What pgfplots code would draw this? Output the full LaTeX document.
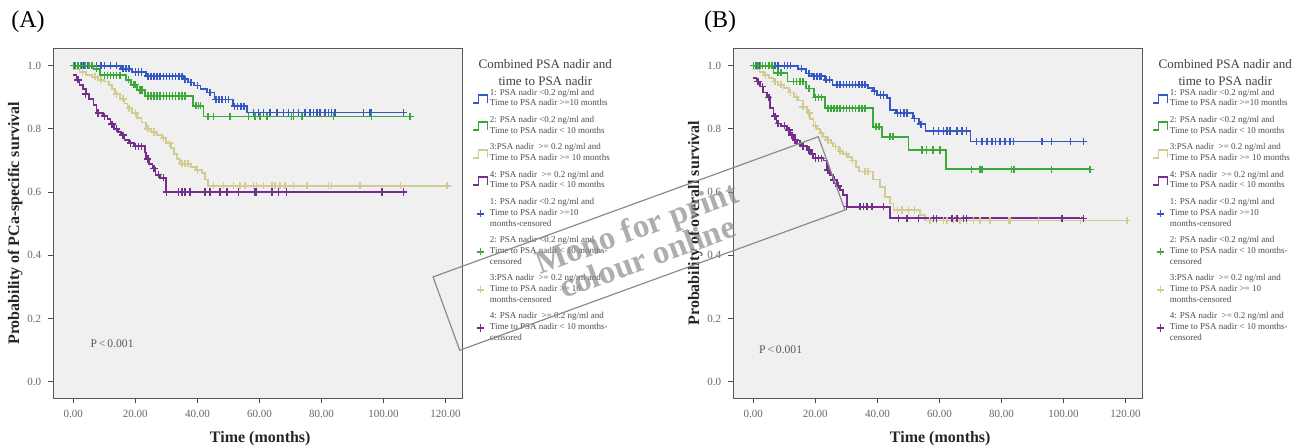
\documentclass[border=0pt]{standalone}
\usepackage{fontspec}
\setmainfont{Liberation Serif}
\usepackage{pgfplots}
\pgfplotsset{compat=1.18}

\definecolor{kmblue}{RGB}{52,88,196}
\definecolor{kmgreen}{RGB}{60,168,60}
\definecolor{kmkhaki}{RGB}{210,204,146}
\definecolor{kmpurple}{RGB}{118,46,140}
\definecolor{plotbg}{RGB}{240,240,240}

\pgfplotsset{
  kmaxis/.style={
    scale only axis, width=204.5pt, height=175pt,
    anchor=south west,
    xmin=-6.45, xmax=125.4, ymin=-0.0525, ymax=1.055,
    xtick={0,20,40,60,80,100,120}, ytick={0,0.2,0.4,0.6,0.8,1.0},
    xtick pos=left, ytick pos=left, tick align=outside,
    major tick length=2.5pt,
    tick style={black!70, line width=0.5pt},
    axis line style={black!65, line width=0.6pt},
    axis background/.style={fill=plotbg},
    /pgf/number format/assume math mode=true,
    xticklabel style={/pgf/number format/.cd, fixed, fixed zerofill, precision=2},
    yticklabel style={/pgf/number format/.cd, fixed, fixed zerofill, precision=1},
    tick label style={font=\fontsize{5.5}{6.5}\selectfont, text=black!60},
    every axis y label/.style={at={(axis description cs:-0.093,0.5)}, rotate=90, anchor=center,
      font=\bfseries\fontsize{8}{9}\selectfont, text=black!85},
    every axis x label/.style={at={(axis description cs:0.506,-0.114)}, anchor=center,
      font=\bfseries\fontsize{8}{9}\selectfont, text=black!85},
    clip mode=individual,
    legend cell align=left,
    legend style={at={(1.024,0.89)}, anchor=north west, draw=none, fill=none,
      font=\fontsize{4.5}{5.3}\selectfont, text=black!70, cells={align=left},
      row sep=2.2pt, inner sep=0pt, nodes={inner sep=0.8pt}},
  },
  stepline/.style={const plot, line width=0.9pt, mark=none,
    legend image code/.code={\draw[##1] (0pt,-2pt) -- (2.5pt,-2pt) -- (2.5pt,2pt) -- (7pt,2pt) -- (7pt,-2pt);}},
  censor/.style={only marks, mark=+, mark size=1.8pt, mark options={line width=0.75pt},
    legend image code/.code={\draw[##1] plot coordinates {(3.5pt,0pt)};}},
}

\newcommand{\kmlegendtitle}{\node[align=center, font=\fontsize{6.5}{8.5}\selectfont, text=black!75]
  at (rel axis cs:1.203,0.931) {Combined PSA nadir and\\time to PSA nadir};}

\begin{document}
\begin{tikzpicture}
\fill[white] (0,0) rectangle (648pt,224pt);
\useasboundingbox (0,0) rectangle (648pt,224pt);

\node[font=\fontsize{12}{14}\selectfont] at (14pt,213pt) {(A)};
\node[font=\fontsize{12}{14}\selectfont] at (360pt,213pt) {(B)};

% ---------------- panel A: PCa-specific survival
\begin{axis}[kmaxis, at={(26.65pt,24.85pt)},
  ylabel={Probability of PCa-specific survival}, xlabel={Time (months)}]
\addplot[stepline, kmblue] coordinates {
  (0,1.0) (15.5,0.99) (19,0.98) (23.5,0.967) (35.5,0.957) (37,0.947) (39,0.937) (41,0.927)
  (43,0.915) (45.5,0.893) (51.5,0.872) (56,0.852) (106.5,0.852)};
\addlegendentry{1: PSA nadir <0.2 ng/ml and\\Time to PSA nadir >=10 months}
\addplot[stepline, kmgreen] coordinates {
  (0,1.0) (6.5,0.99) (8.5,0.97) (17,0.955) (18.5,0.94) (20.5,0.923) (23,0.904) (38.7,0.873)
  (42,0.839) (108.6,0.839)};
\addlegendentry{2: PSA nadir <0.2 ng/ml and\\Time to PSA nadir < 10 months}
\addplot[stepline, kmkhaki] coordinates {
  (0,0.99) (2,0.98) (4,0.97) (6,0.965) (8,0.955) (10,0.95) (11.5,0.94) (12.5,0.925) (13.5,0.91)
  (15,0.895) (16.5,0.88) (17.5,0.865) (19,0.85) (20.5,0.835) (22,0.82) (23.5,0.80) (25,0.79)
  (27,0.78) (28.5,0.77) (30,0.755) (31.5,0.74) (32.5,0.72) (33.5,0.705) (34.5,0.69) (38,0.68)
  (39.5,0.67) (41.5,0.66) (42.5,0.64) (43.5,0.62) (120.5,0.62)};
\addlegendentry{3:PSA nadir \ >= 0.2 ng/ml and\\Time to PSA nadir >= 10 months}
\addplot[stepline, kmpurple] coordinates {
  (0,0.97) (1,0.955) (2,0.94) (3,0.925) (4,0.91) (5,0.895) (6.5,0.875) (7.5,0.85) (9.5,0.84)
  (11,0.83) (12,0.815) (13,0.80) (14.5,0.79) (15.5,0.78) (16.5,0.765) (18,0.755) (19.5,0.745)
  (23,0.725) (23.5,0.705) (24.5,0.69) (25.5,0.675) (26.5,0.655) (28,0.645) (30,0.60) (106.5,0.60)};
\addlegendentry{4: PSA nadir \ >= 0.2 ng/ml and\\Time to PSA nadir < 10 months}
% censored
\addplot[censor, kmblue] coordinates {
  (0.5,1) (1.5,1) (2.5,1) (3.5,1) (4.5,1) (6,1) (7.5,1) (9,1) (10,1) (12,1) (14,1)
  (16,0.99) (17,0.99) (18,0.99) (20,0.98) (21,0.98) (22,0.98)
  (24,0.967) (25,0.967) (26,0.967) (27,0.967) (28,0.967) (29,0.967) (30,0.967) (31,0.967)
  (32,0.967) (33,0.967) (34,0.967) (35,0.967) (36,0.957) (38,0.947) (40,0.937) (44,0.915)
  (46,0.893) (47,0.893) (48,0.893) (49,0.893) (50,0.893) (52,0.872) (53,0.872) (54,0.872) (55,0.872)
  (58.1,0.852) (59.7,0.852) (61.3,0.852) (63.4,0.852) (65.6,0.852) (67.7,0.852) (69.4,0.852)
  (71,0.852) (72.6,0.852) (74.7,0.852) (76.3,0.852) (77.4,0.852) (78.5,0.852) (79.6,0.852)
  (81.2,0.852) (82.3,0.852) (83.3,0.852) (84.4,0.852) (93.5,0.852) (95.7,0.852) (96.2,0.852)
  (106.5,0.852)};
\addlegendentry{1: PSA nadir <0.2 ng/ml and\\Time to PSA nadir >=10\\months-censored}
\addplot[censor, kmgreen] coordinates {
  (0,1) (0.7,1) (1.5,1) (2.3,1) (3,1) (4,1) (5,1) (6,1) (7.5,0.99)
  (10,0.97) (11,0.97) (12,0.97) (13,0.97) (14,0.97) (15,0.97) (17.8,0.955) (19.5,0.94) (20,0.94)
  (21.5,0.923) (22.2,0.923) (24,0.904) (25,0.904) (26,0.904) (27,0.904) (28,0.904) (29,0.904)
  (30,0.904) (31,0.904) (32,0.904) (33,0.904) (34,0.904) (35,0.904) (36,0.904)
  (39.5,0.873) (40.3,0.873) (41,0.873) (43.5,0.839) (45.2,0.839) (50.5,0.839) (56.5,0.839)
  (58.6,0.839) (60.2,0.839) (62.4,0.839) (70.4,0.839) (71,0.839) (73.7,0.839) (83.9,0.839)
  (96.2,0.839) (108.6,0.839)};
\addlegendentry{2: PSA nadir <0.2 ng/ml and\\Time to PSA nadir < 10 months-\\censored}
\addplot[censor, kmkhaki] coordinates {
  (3,0.98) (7,0.965) (9,0.955) (14,0.91) (16,0.895) (18,0.865) (20,0.85) (24,0.80) (26,0.79)
  (29,0.77) (31,0.755) (35,0.69) (36,0.69) (37,0.69) (40,0.67)
  (45.2,0.62) (48.4,0.62) (51.6,0.62) (53.8,0.62) (55.4,0.62) (58.1,0.62) (59.1,0.62) (61.3,0.62)
  (64,0.62) (65,0.62) (66.7,0.62) (68.3,0.62) (71,0.62) (75.3,0.62) (82.3,0.62) (83.3,0.62)
  (92.5,0.62) (105.4,0.62) (120.5,0.62)};
\addlegendentry{3:PSA nadir \ >= 0.2 ng/ml and\\Time to PSA nadir >= 10\\months-censored}
\addplot[censor, kmpurple] coordinates {
  (1.5,0.955) (4,0.91) (8,0.85) (10,0.84) (12.5,0.815) (14,0.80) (16,0.78) (18.5,0.755)
  (20,0.745) (21,0.745) (22,0.745) (24,0.705) (26,0.675) (27.5,0.655) (29,0.645)
  (30.1,0.60) (33.9,0.60) (35,0.60) (36,0.60) (37.6,0.60) (42.5,0.60) (44.1,0.60) (47.3,0.60)
  (49.5,0.60) (53.2,0.60) (58.6,0.60) (59.1,0.60) (64,0.60) (66.1,0.60) (68.8,0.60) (99.5,0.60)
  (106.5,0.60)};
\addlegendentry{4: PSA nadir \ >= 0.2 ng/ml and\\Time to PSA nadir < 10 months-\\censored}
\node[font=\fontsize{5.8}{7}\selectfont, text=black!65] at (axis cs:12.5,0.12) {P\,<\,0.001};
\kmlegendtitle
\end{axis}

% ---------------- panel B: overall survival
\begin{axis}[kmaxis, at={(366.65pt,24.85pt)},
  ylabel={Probability of overall survival}, xlabel={Time (months)}]
\addplot[stepline, kmblue] coordinates {
  (0,1.0) (14.5,0.99) (17,0.975) (19,0.967) (23,0.955) (25.5,0.94) (37,0.93) (38.5,0.92)
  (40,0.907) (43,0.897) (44,0.86) (46,0.85) (51.5,0.833) (53.5,0.815) (55.5,0.793) (70,0.76)
  (106.5,0.76)};
\addlegendentry{1: PSA nadir <0.2 ng/ml and\\Time to PSA nadir >=10 months}
\addplot[stepline, kmgreen] coordinates {
  (0,1.0) (6.5,0.978) (11,0.95) (17,0.928) (19.5,0.90) (23,0.865) (38.7,0.807) (41.5,0.775)
  (50,0.733) (62,0.672) (108.6,0.672)};
\addlegendentry{2: PSA nadir <0.2 ng/ml and\\Time to PSA nadir < 10 months}
\addplot[stepline, kmkhaki] coordinates {
  (0,0.99) (2,0.98) (3.5,0.97) (5,0.96) (6.5,0.95) (8,0.94) (10,0.93) (11.5,0.915) (13,0.90)
  (14.5,0.89) (16,0.87) (17.2,0.85) (18.3,0.83) (19.4,0.81) (20.5,0.80) (21.5,0.786) (22.5,0.775)
  (23.7,0.765) (25,0.755) (25.8,0.744) (27.5,0.73) (29,0.72) (30.5,0.71) (31.7,0.70) (33,0.68)
  (34,0.665) (38.7,0.64) (40.9,0.617) (42.5,0.585) (44.1,0.564) (45.2,0.543) (53.8,0.527)
  (55.4,0.51) (120.4,0.51)};
\addlegendentry{3:PSA nadir \ >= 0.2 ng/ml and\\Time to PSA nadir >= 10 months}
\addplot[stepline, kmpurple] coordinates {
  (0,0.96) (1,0.95) (2.2,0.934) (3.2,0.915) (4.3,0.90) (5.4,0.865) (6.5,0.84) (7.5,0.817) (9,0.81)
  (10.8,0.796) (12,0.78) (13,0.765) (14,0.754) (15.5,0.745) (17.2,0.733) (18.5,0.72) (19.4,0.707)
  (22.6,0.70) (23.7,0.67) (24.8,0.655) (25.8,0.638) (27,0.62) (28,0.606) (29,0.59) (30.1,0.554)
  (44.1,0.517) (106.5,0.517)};
\addlegendentry{4: PSA nadir \ >= 0.2 ng/ml and\\Time to PSA nadir < 10 months}
\addplot[censor, kmblue] coordinates {
  (0,1) (1,1) (2,1) (3,1) (4,1) (5,1) (7,1) (8,1) (10,1) (11,1) (12,1) (15.5,0.99) (18,0.975)
  (19.5,0.967) (20.5,0.967) (21.5,0.967) (22,0.967) (23.5,0.955) (24.5,0.955)
  (27,0.94) (28,0.94) (29,0.94) (30,0.94) (31,0.94) (32,0.94) (33,0.94) (34,0.94) (35,0.94) (36,0.94)
  (39,0.92) (41,0.907) (42,0.907) (46.5,0.85) (47.5,0.85) (48.5,0.85) (49.5,0.85) (52,0.833)
  (54,0.815) (58.1,0.793) (59.7,0.793) (61.3,0.793) (62.4,0.793) (63.4,0.793) (65.6,0.793)
  (67.2,0.793) (68.8,0.793) (72,0.76) (73.7,0.76) (75.3,0.76) (76.9,0.76) (78,0.76) (79.6,0.76)
  (81.2,0.76) (82.8,0.76) (83.9,0.76) (93,0.76) (96.2,0.76) (102.2,0.76) (106.5,0.76)};
\addlegendentry{1: PSA nadir <0.2 ng/ml and\\Time to PSA nadir >=10\\months-censored}
\addplot[censor, kmgreen] coordinates {
  (0,1) (0.7,1) (1.5,1) (2.3,1) (3,1) (4,1) (5,1) (6,1) (8,0.978) (9,0.978)
  (13,0.95) (14,0.95) (15,0.95) (16,0.95) (18,0.928) (20,0.90) (21,0.90) (22,0.90)
  (24,0.865) (25,0.865) (26,0.865) (27,0.865) (28,0.865) (29,0.865) (30,0.865) (31,0.865)
  (32,0.865) (33,0.865) (34,0.865) (35,0.865) (36,0.865) (39.5,0.807) (40.5,0.807) (44,0.775)
  (45,0.775) (54.3,0.733) (55.9,0.733) (58,0.733) (60.2,0.733) (70.4,0.672) (73.1,0.672)
  (73.8,0.672) (83.3,0.672) (84,0.672) (96.2,0.672) (108.6,0.672)};
\addlegendentry{2: PSA nadir <0.2 ng/ml and\\Time to PSA nadir < 10 months-\\censored}
\addplot[censor, kmkhaki] coordinates {
  (4,0.97) (7,0.95) (9,0.94) (12,0.915) (14,0.90) (16,0.87) (18,0.85) (20,0.81) (22,0.786)
  (24,0.765) (26.5,0.744) (28,0.73) (30,0.72) (32,0.70) (36,0.665) (37,0.665)
  (46.5,0.543) (48,0.543) (50,0.543) (52,0.543) (57,0.51) (59.1,0.51) (61.3,0.51) (62.4,0.51)
  (64.5,0.51) (66.7,0.51) (68.8,0.51) (71,0.51) (73.1,0.51) (76.3,0.51) (82.2,0.51) (82.8,0.51)
  (91.9,0.51) (105.4,0.51) (120.4,0.51)};
\addlegendentry{3:PSA nadir \ >= 0.2 ng/ml and\\Time to PSA nadir >= 10\\months-censored}
\addplot[censor, kmpurple] coordinates {
  (1.5,0.95) (3,0.934) (5,0.90) (7,0.84) (8,0.817) (10,0.81) (11.5,0.796) (12.5,0.78)
  (13.5,0.765) (15,0.754) (16,0.745) (18,0.733) (19,0.72) (20,0.707) (21,0.707) (22,0.707)
  (24,0.67) (26,0.638) (27.5,0.62) (30.1,0.554) (34.4,0.554) (35.5,0.554) (36.6,0.554)
  (38.2,0.554) (41.9,0.554) (46.8,0.517) (49.5,0.517) (53.2,0.517) (58.1,0.517) (59.1,0.517)
  (64,0.517) (65.6,0.517) (67.7,0.517) (68.8,0.517) (99.5,0.517) (106.5,0.517)};
\addlegendentry{4: PSA nadir \ >= 0.2 ng/ml and\\Time to PSA nadir < 10 months-\\censored}
\node[font=\fontsize{5.8}{7}\selectfont, text=black!65] at (axis cs:8.8,0.10) {P\,<\,0.001};
\kmlegendtitle
\end{axis}

% stamp laid over both panels
\node[draw=black!45, line width=0.6pt, rotate=20, minimum width=205pt, minimum height=39pt]
  at (319.5pt,102.25pt) {};
\node[rotate=20, align=center, font=\bfseries\fontsize{16.5}{15.5}\selectfont, text=black!45,
  text opacity=0.7] at (321pt,103pt) {Mono for print\\colour online};
\end{tikzpicture}
\end{document}
